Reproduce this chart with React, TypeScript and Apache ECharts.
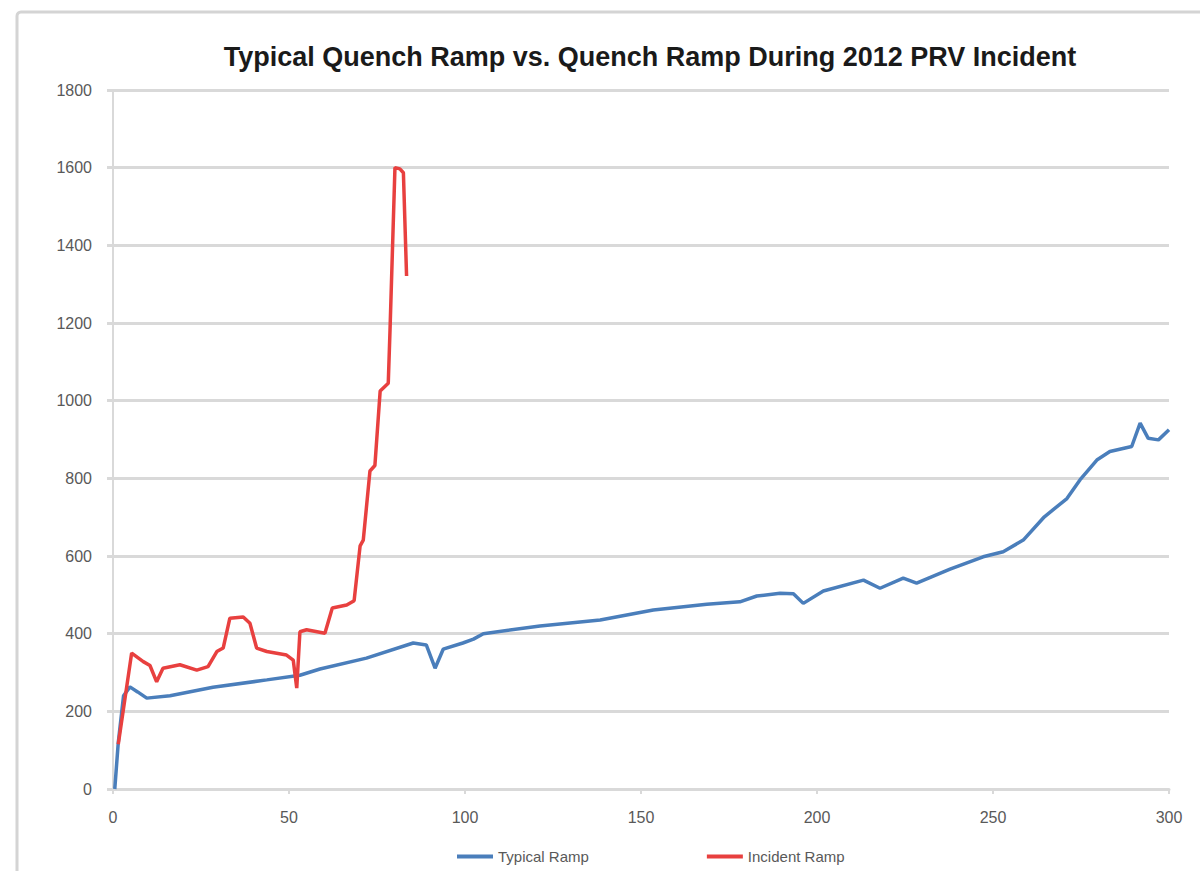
import React, { useEffect, useRef } from "react";
import * as echarts from "echarts";

const title = "Typical Quench Ramp vs. Quench Ramp During 2012 PRV Incident";
const seriesNames = ["Typical Ramp", "Incident Ramp"];

const typicalRamp: [number, number][] = [
  [0.5, 0], [1.5, 120], [3, 240], [4.8, 263], [7, 250], [9.6, 234], [16.2, 240],
  [28.4, 262], [43.7, 281], [53.1, 293], [58.8, 309], [72, 337], [85.3, 376],
  [89, 371], [91.5, 311], [93.8, 360], [99.4, 376], [102.4, 386], [105.2, 400],
  [121.3, 420], [138.4, 435], [153.5, 461], [168.7, 476], [178.1, 482],
  [182.9, 497], [189.5, 504], [193.3, 503], [196.1, 478], [201.8, 510],
  [213.2, 538], [217.9, 517], [224.5, 543], [228.3, 530], [237.8, 566],
  [247.2, 598], [252.9, 611], [258.6, 641], [264.6, 701], [271, 748],
  [274.7, 796], [279.5, 847], [283.2, 869], [289.4, 882], [291.8, 942],
  [294.1, 903], [297, 899], [300, 925],
];

const incidentRamp: [number, number][] = [
  [1.5, 115], [5.3, 350], [8.6, 328], [10.5, 318], [12.4, 276], [14.2, 311],
  [19, 320], [23.8, 306], [27, 315], [29.5, 354], [31.3, 363], [33.2, 440],
  [37, 443], [38.9, 427], [40.8, 363], [43.7, 354], [49.3, 345], [51.2, 332],
  [52.2, 260], [53.1, 405], [55, 410], [60.2, 401], [62.3, 466], [66.4, 474],
  [68.5, 485], [70.2, 626], [71.1, 641], [73, 819], [74.4, 833], [75.9, 1025],
  [78.2, 1045], [78.7, 1182], [80.1, 1600], [81.5, 1597], [82.5, 1587],
  [83.4, 1321],
];

const xTicks = { min: 0, max: 300, interval: 50 };
const yTicks = { min: 0, max: 1800, interval: 200 };

const colors = ["#4a7ebb", "#e8403f"];
const font = "'Liberation Sans', Arial, sans-serif";

export default function App() {
  const ref = useRef<HTMLDivElement>(null);
  useEffect(() => {
    if (!ref.current) return;
    const chart = echarts.init(ref.current, null, { renderer: "svg" });
    chart.setOption({
      animation: false,
      backgroundColor: "#ffffff",
      color: colors,
      title: {
        text: title,
        left: 645,
        top: 38,
        textAlign: "center",
        textStyle: { fontFamily: font, fontSize: 27, fontWeight: "bold", color: "#1a1a1a" },
      },
      graphic: [
        {
          type: "rect",
          shape: { x: 17, y: 12, width: 1200, height: 880, r: 4 },
          style: { fill: "none", stroke: "#d4d4d4", lineWidth: 3 },
          silent: true,
        },
      ],
      grid: { left: 113, right: 31, top: 90, bottom: 82, containLabel: false },
      legend: {
        left: 452,
        top: 844,
        itemGap: 118,
        itemWidth: 36,
        itemHeight: 4,
        icon: "rect",
        textStyle: { fontFamily: font, fontSize: 15, color: "#595959" },
        data: seriesNames,
      },
      xAxis: {
        type: "value",
        min: xTicks.min,
        max: xTicks.max,
        interval: xTicks.interval,
        axisLine: { show: true, lineStyle: { color: "#d9d9d9", width: 3 } },
        axisTick: { show: true, length: 5, lineStyle: { color: "#d9d9d9", width: 2 } },
        axisLabel: { fontFamily: font, fontSize: 16, color: "#595959", margin: 20 },
        splitLine: { show: false },
      },
      yAxis: {
        type: "value",
        min: yTicks.min,
        max: yTicks.max,
        interval: yTicks.interval,
        axisLine: { show: true, lineStyle: { color: "#d9d9d9", width: 2 } },
        axisTick: { show: true, length: 6, lineStyle: { color: "#d9d9d9", width: 3 } },
        axisLabel: {
          fontFamily: font,
          fontSize: 16,
          color: "#595959",
          margin: 21,
          formatter: (v: number) => String(v),
        },
        splitLine: { show: true, lineStyle: { color: "#d9d9d9", width: 3 } },
      },
      series: [
        {
          name: seriesNames[0],
          type: "line",
          data: typicalRamp,
          showSymbol: false,
          symbol: "none",
          lineStyle: { width: 3.5, color: colors[0] },
          itemStyle: { color: colors[0] },
        },
        {
          name: seriesNames[1],
          type: "line",
          data: incidentRamp,
          showSymbol: false,
          symbol: "none",
          lineStyle: { width: 3.5, color: colors[1] },
          itemStyle: { color: colors[1] },
        },
      ],
    });
    return () => chart.dispose();
  }, []);
  return (
    <div
      ref={ref}
      style={{ position: "fixed", left: 0, top: 0, width: 1200, height: 871 }}
    />
  );
}
